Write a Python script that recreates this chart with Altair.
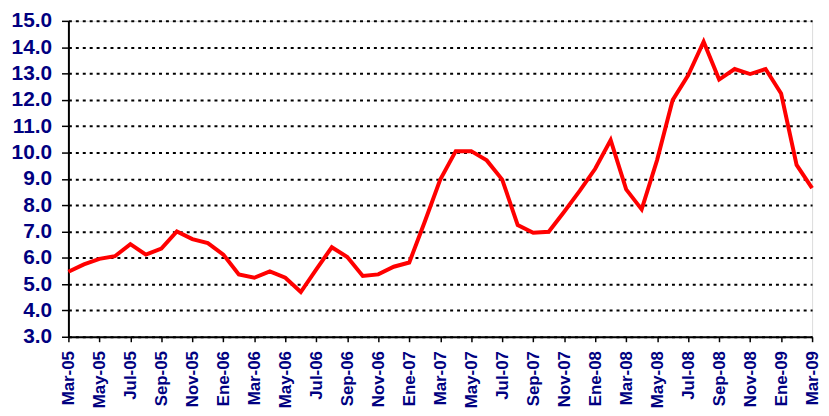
import altair as alt
import pandas as pd

months = [
    "Mar-05", "Abr-05", "May-05", "Jun-05", "Jul-05", "Ago-05", "Sep-05", "Oct-05", "Nov-05", "Dic-05",
    "Ene-06", "Feb-06", "Mar-06", "Abr-06", "May-06", "Jun-06", "Jul-06", "Ago-06", "Sep-06", "Oct-06",
    "Nov-06", "Dic-06", "Ene-07", "Feb-07", "Mar-07", "Abr-07", "May-07", "Jun-07", "Jul-07", "Ago-07",
    "Sep-07", "Oct-07", "Nov-07", "Dic-07", "Ene-08", "Feb-08", "Mar-08", "Abr-08", "May-08", "Jun-08",
    "Jul-08", "Ago-08", "Sep-08", "Oct-08", "Nov-08", "Dic-08", "Ene-09", "Feb-09", "Mar-09",
]
values = [
    5.47, 5.75, 5.96, 6.06, 6.52, 6.12, 6.35, 7.00, 6.71, 6.56,
    6.12, 5.37, 5.24, 5.48, 5.24, 4.70, 5.56, 6.40, 6.03, 5.31,
    5.37, 5.66, 5.82, 7.37, 8.97, 10.05, 10.05, 9.70, 8.97, 7.24,
    6.95, 6.99, 7.75, 8.54, 9.38, 10.47, 8.60, 7.84, 9.72, 11.99,
    12.93, 14.21, 12.77, 13.17, 12.98, 13.17, 12.24, 9.53, 8.65,
]
tick_labels = months[::2]
y_ticks = [3, 4, 5, 6, 7, 8, 9, 10, 11, 12, 13, 14, 15]

df = pd.DataFrame({"month": months, "value": values})

navy = "#000080"
font = "Liberation Sans"

chart = (
    alt.Chart(df)
    .mark_line(color="#FF0000", strokeWidth=4, strokeJoin="miter")
    .encode(
        x=alt.X(
            "month:O",
            sort=None,
            scale=alt.Scale(type="point", padding=0),
            axis=alt.Axis(
                values=tick_labels,
                title=None,
                labelAngle=-90,
                labelAlign="right",
                labelBaseline="middle",
                labelFont=font,
                labelFontSize=17,
                labelFontWeight="bold",
                labelColor=navy,
                labelPadding=9,
                tickSize=5,
                tickColor="black",
                tickWidth=1.5,
                domainColor="black",
                domainWidth=2,
                grid=False,
                labelOverlap=False,
            ),
        ),
        y=alt.Y(
            "value:Q",
            scale=alt.Scale(domain=[3, 15], nice=False, zero=False),
            axis=alt.Axis(
                values=y_ticks,
                format=".1f",
                title=None,
                labelFont=font,
                labelFontSize=21,
                labelFontWeight="bold",
                labelColor=navy,
                labelPadding=10,
                tickSize=7,
                tickColor="black",
                tickWidth=1.5,
                domainColor="black",
                domainWidth=2,
                grid=True,
                gridColor="black",
                gridWidth=2,
                gridDash=[3, 4],
                labelOverlap=False,
            ),
        ),
    )
    .properties(
        width=751,
        height=319,
        autosize=alt.AutoSizeParams(type="none"),
        padding={"left": 61, "top": 11, "right": 9, "bottom": 75},
    )
    .configure_view(stroke="#333333", strokeWidth=1)
    .configure(background="white")
)

chart.save("out.html", embed_options={"renderer": "svg", "actions": False})
